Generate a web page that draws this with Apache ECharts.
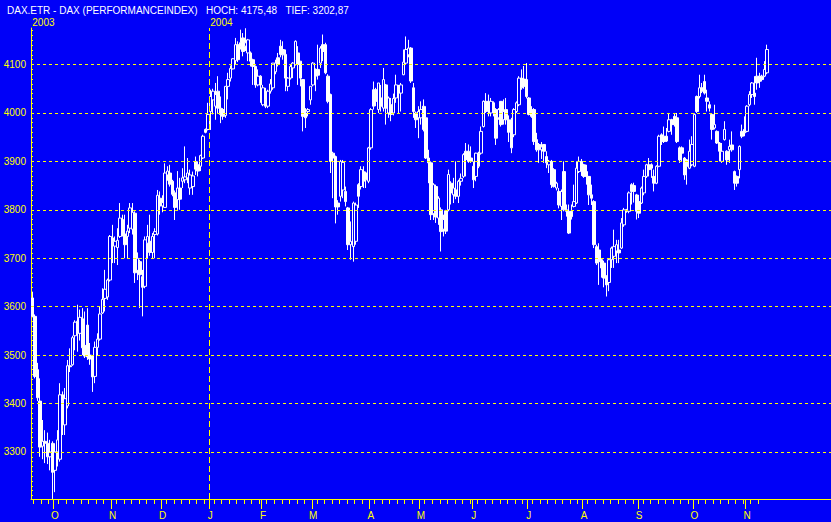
<!DOCTYPE html>
<html>
<head>
<meta charset="utf-8">
<script src="https://cdn.jsdelivr.net/npm/echarts@6/dist/echarts.min.js"></script>
<style>
html,body{margin:0;padding:0;background:#0000F8;overflow:hidden;}
#chart{width:831px;height:522px;}
</style>
</head>
<body>
<div id="chart"></div>
<script>
// ---------- texts & scales ----------
const titleText = 'DAX.ETR - DAX (PERFORMANCEINDEX)\u00a0\u00a0\u00a0HOCH: 4175,48\u00a0\u00a0\u00a0TIEF: 3202,87';
const yMin = 3202.87;
const yMax = 4175.48;
const yTickValues = [3300, 3400, 3500, 3600, 3700, 3800, 3900, 4000, 4100];
const monthLetters = ['J','F','M','A','M','J','J','A','S','O','N','D'];
const yearMarks = ['2003-09-18', '2004-01-02'];
const firstDay = '2003-09-18';
const slotCount = 319;
const holidays = ['2003-12-24','2003-12-25','2003-12-26','2003-12-31','2004-01-01','2004-04-09','2004-04-12','2004-12-24','2004-12-31'];

// ---------- daily OHLC ----------
const opens = [3618,3580,3470,3405,3312,3322,3318,3290,3318,3262,
3300,3285,3418,3356,3395,3478,3480,3540,3570,3545,
3575,3520,3562,3500,3497,3456,3516,3533,3587,3617,
3620,3655,3742,3725,3722,3745,3780,3750,3745,3762,
3760,3793,3675,3693,3662,3642,3731,3735,3712,3749,
3750,3824,3808,3805,3872,3876,3859,3835,3821,3845,
3859,3862,3866,3845,3848,3900,3893,3890,3907,3966,
3966,4003,4027,4014,4045,4010,4007,3995,4055,4072,
4091,4108,4141,4145,4155,4138,4124,4124,4110,4096,
4058,4076,4017,4027,4014,4045,4052,4085,4114,4138,
4131,4121,4055,4072,4093,4100,4124,4107,4069,4000,
4003,4027,4058,4090,4090,4103,4141,4141,4076,4038,
3917,3910,3814,3828,3841,3838,3804,3728,3724,3735,
3852,3848,3879,3876,3859,3928,4048,4048,4007,4031,
4010,4058,4000,4017,4000,4031,4055,4041,4079,4103,
4120,4134,4052,4000,3990,3990,4014,3990,3907,3897,
3792,3848,3783,3800,3760,3798,3800,3855,3831,3841,
3828,3859,3869,3921,3921,3907,3890,3869,3917,3917,
3972,4024,4024,4000,4021,4007,3990,4024,3986,4007,
3986,3986,3955,4003,4017,4072,4070,4069,4031,4007,
4007,3945,3935,3924,3935,3910,3893,3900,3883,3845,
3838,3807,3879,3800,3797,3797,3807,3814,3879,3900,
3893,3879,3869,3831,3817,3724,3717,3697,3690,3662,
3650,3697,3704,3715,3717,3721,3769,3800,3797,3852,
3850,3831,3817,3814,3835,3869,3893,3893,3869,3855,
3890,3955,3952,3952,3962,3986,3993,3990,3928,3928,
3907,3903,3886,3893,3890,4034,4034,4052,4065,4031,
4017,3997,3969,3962,3938,3900,3945,3921,3924,3934,
3879,3869,3883,3962,3966,3962,4017,4038,4041,4076,
4076,4076,4076,4083];
const closes = [3580,3456,3412,3310,3322,3318,3290,3300,3258,3300,
3325,3418,3405,3410,3478,3476,3536,3568,3545,3578,
3515,3498,3496,3492,3455,3516,3533,3585,3615,3636,
3655,3745,3728,3735,3737,3783,3750,3728,3756,3804,
3795,3670,3700,3666,3640,3738,3745,3712,3745,3755,
3830,3808,3815,3876,3880,3853,3832,3805,3845,3822,
3866,3868,3876,3872,3870,3884,3880,3912,3952,3960,
3997,4034,4045,4038,4010,3997,3993,4055,4069,4092,
4112,4141,4110,4138,4127,4145,4151,4107,4096,4058,
4076,4058,4052,4014,4045,4060,4103,4103,4100,4121,
4120,4072,4072,4096,4103,4148,4100,4072,3993,3990,
4007,4055,4103,4076,4078,4134,4127,4083,4024,3900,
3907,3806,3806,3900,3898,3817,3728,3735,3814,3810,
3828,3883,3859,3862,3928,4007,4014,4024,4062,4014,
4069,4010,4031,3997,4030,4058,4041,4058,4105,4131,
4134,4066,4003,3986,4003,4007,3966,3907,3897,3790,
3852,3785,3824,3755,3780,3756,3873,3835,3845,3828,
3859,3865,3914,3904,3900,3900,3862,3917,3890,3962,
4024,4003,4007,4024,4007,3948,4007,3976,4003,3986,
3960,3928,4007,4021,4072,4052,4055,4034,3997,3993,
3941,3924,3924,3930,3921,3897,3900,3852,3848,3855,
3810,3838,3800,3797,3752,3786,3817,3886,3900,3880,
3869,3869,3831,3824,3728,3690,3693,3680,3659,3645,
3697,3721,3724,3728,3711,3773,3800,3797,3835,3838,
3838,3797,3793,3845,3869,3893,3883,3886,3855,3890,
3952,3941,3941,3942,3986,3976,3976,3941,3903,3917,
3872,3890,3921,3935,3997,4003,4052,4045,4041,4024,
4010,3966,3976,3938,3921,3921,3966,3903,3931,3924,
3855,3855,3931,3952,3959,4014,4038,4062,4034,4062,
4065,4069,4090,4131];
const lows = [3578,3452,3405,3290,3285,3277,3275,3262,3203,3217,
3270,3280,3335,3335,3390,3465,3478,3510,3507,3530,
3500,3494,3490,3480,3424,3442,3500,3530,3585,3590,
3614,3652,3690,3690,3686,3742,3745,3700,3700,3752,
3749,3649,3655,3597,3580,3638,3700,3705,3700,3700,
3747,3790,3795,3804,3860,3848,3828,3779,3800,3800,
3845,3855,3855,3831,3831,3872,3869,3880,3905,3958,
3964,3965,3997,3986,4000,3979,3986,3990,4028,4065,
4090,4100,4105,4131,4117,4128,4107,4096,4058,4052,
4055,4021,4014,4010,4010,4040,4048,4080,4096,4115,
4110,4045,4045,4069,4072,4098,4058,4055,3962,3969,
3993,4017,4055,4045,4069,4093,4107,4080,4020,3876,
3824,3772,3790,3817,3824,3807,3717,3697,3693,3728,
3804,3842,3845,3845,3855,3924,4007,4014,4000,4003,
4003,3976,3990,3983,3995,4021,4000,4003,4078,4100,
4115,4062,3990,3969,3948,3976,3962,3905,3855,3779,
3779,3773,3769,3714,3745,3750,3797,3811,3814,3822,
3814,3850,3866,3869,3897,3897,3845,3859,3886,3914,
3970,4000,3993,3993,3993,3934,3986,3972,3976,3976,
3940,3917,3950,4000,4014,4048,4050,4030,3995,3990,
3934,3920,3897,3905,3897,3886,3876,3845,3846,3840,
3803,3779,3797,3786,3750,3780,3805,3812,3876,3870,
3866,3852,3810,3810,3721,3686,3645,3660,3640,3621,
3632,3680,3680,3690,3690,3719,3765,3794,3793,3811,
3815,3780,3783,3812,3830,3866,3869,3866,3838,3853,
3888,3934,3938,3940,3960,3955,3972,3938,3897,3900,
3862,3852,3884,3890,3888,4000,4030,4041,4038,4003,
4003,3945,3966,3936,3900,3897,3943,3893,3897,3920,
3841,3848,3865,3948,3952,3960,4014,4031,4017,4048,
4052,4065,4074,4080];
const highs = [3631,3584,3484,3452,3366,3345,3340,3325,3322,3318,
3345,3442,3425,3432,3490,3514,3540,3572,3604,3594,
3597,3590,3597,3525,3500,3528,3545,3601,3638,3676,
3658,3748,3769,3745,3762,3814,3790,3790,3769,3814,
3814,3797,3712,3697,3676,3745,3769,3790,3752,3762,
3841,3838,3830,3896,3890,3893,3862,3840,3880,3866,
3886,3931,3907,3883,3879,3910,3900,3914,3955,3968,
4021,4048,4050,4062,4076,4034,4010,4055,4083,4098,
4113,4155,4148,4172,4165,4175,4153,4127,4112,4098,
4090,4078,4058,4052,4048,4070,4103,4110,4124,4151,
4148,4131,4074,4100,4105,4150,4138,4107,4069,4010,
4010,4055,4105,4092,4141,4138,4162,4145,4080,4040,
3920,3912,3820,3903,3903,3848,3806,3776,3817,3815,
3855,3890,3890,3879,3930,4010,4065,4052,4062,4058,
4093,4060,4034,4031,4040,4079,4058,4062,4131,4158,
4151,4136,4062,4003,4014,4024,4028,4014,3924,3900,
3855,3852,3828,3805,3790,3800,3883,3859,3866,3900,
3862,3875,3917,3938,3935,3931,3900,3918,3920,3972,
4026,4041,4038,4031,4024,4010,4010,4024,4028,4031,
3995,3990,4010,4024,4076,4090,4097,4103,4033,4014,
4010,3959,3938,3940,3935,3921,3903,3903,3886,3858,
3845,3842,3900,3811,3811,3811,3852,3900,3910,3905,
3895,3893,3870,3852,3820,3728,3731,3700,3695,3665,
3700,3724,3759,3738,3738,3783,3804,3802,3838,3855,
3856,3833,3831,3848,3883,3895,3907,3896,3883,3892,
3955,3958,3972,3969,4000,3988,4000,4000,3931,3931,
3909,3905,3945,3952,3999,4036,4079,4062,4079,4048,
4024,3999,4017,3964,3940,3938,3983,3923,3945,3962,
3881,3871,3933,3976,3993,4016,4045,4064,4076,4114,
4083,4079,4107,4141];

// ---------- colours & fonts ----------
const BG = '#0000F8';
const YELLOW = '#FFFF00';
const WHITE = '#FFFFFF';
const FONT = '"Liberation Sans", Arial, sans-serif';

// ---------- trading-day categories ----------
const dates = [];
const monthOffset = [];
(function () {
  let d = new Date(Date.UTC(2003, 8, 1));
  let curMonth = -1, off = 0;
  while (dates.length < slotCount) {
    const s = d.toISOString().slice(0, 10);
    const wd = d.getUTCDay();
    if (wd !== 0 && wd !== 6 && holidays.indexOf(s) < 0) {
      if (d.getUTCMonth() !== curMonth) { curMonth = d.getUTCMonth(); off = 0; }
      if (s >= firstDay) { dates.push(s); monthOffset.push(off); }
      off++;
    }
    d = new Date(d.getTime() + 86400000);
  }
})();
const lastIdx = opens.length - 1;
const isMajor = i => i <= lastIdx && monthOffset[i] === 0;
const isMinor = i => i <= lastIdx - 1 && monthOffset[i] % 3 === 2;
const yearIdx = yearMarks.map(s => dates.indexOf(s));
const minorY = [];
for (let v = 3210; v < yMax; v += 10) minorY.push(v);

const candles = opens.map((o, i) => [o, closes[i], lows[i], highs[i]]);

const chart = echarts.init(document.getElementById('chart'), null, { renderer: 'svg' });
chart.setOption({
  animation: false,
  backgroundColor: BG,
  title: {
    text: titleText, left: 2, top: 0,
    textStyle: { color: WHITE, fontSize: 10, fontWeight: 'normal', fontFamily: FONT }
  },
  grid: { left: 31, right: 0, top: 28, bottom: 23, containLabel: false },
  xAxis: [
    {
      type: 'category', data: dates, position: 'bottom', boundaryGap: true,
      axisLine: { show: true, lineStyle: { color: YELLOW, width: 1 } },
      axisTick: { show: true, interval: (i) => isMajor(i), length: 10, lineStyle: { color: YELLOW, width: 1 } },
      axisLabel: {
        show: true, interval: (i) => isMajor(i), color: YELLOW, fontSize: 10, fontFamily: FONT, margin: 11,
        formatter: (v) => monthLetters[parseInt(v.slice(5, 7), 10) - 1]
      },
      splitLine: { show: false }
    },
    {
      type: 'category', data: dates, position: 'bottom', boundaryGap: true,
      axisLine: { show: false },
      axisTick: { show: true, interval: (i) => isMinor(i), length: 5, lineStyle: { color: YELLOW, width: 1 } },
      axisLabel: { show: false },
      splitLine: { show: false }
    },
    {
      type: 'category', data: dates, position: 'top', boundaryGap: true,
      axisLine: { show: false }, axisTick: { show: false },
      axisLabel: {
        show: true, interval: (i) => yearIdx.indexOf(i) >= 0, color: YELLOW, fontSize: 10, fontFamily: FONT,
        margin: 1, align: 'left', formatter: (v) => v.slice(0, 4)
      },
      splitLine: { show: false }
    },
    {
      type: 'value', min: 0, max: slotCount, show: false
    }
  ],
  yAxis: {
    type: 'value', min: yMin, max: yMax, position: 'left',
    axisLine: { show: true, lineStyle: { color: YELLOW, width: 1 } },
    axisTick: { show: true, inside: true, length: 2, customValues: minorY, lineStyle: { color: YELLOW, width: 1 } },
    axisLabel: {
      show: true, customValues: yTickValues, color: YELLOW, fontSize: 10, fontFamily: FONT, margin: 5,
      formatter: (v) => String(Math.round(v))
    },
    splitLine: { show: false }
  },
  series: [
    {
      type: 'line', xAxisIndex: 3, yAxisIndex: 0, data: [], silent: true,
      markLine: {
        silent: true, symbol: ['none', 'none'], animation: false,
        label: { show: false },
        lineStyle: { color: YELLOW, type: [3, 3], width: 1 },
        data: yTickValues.map(v => ({ yAxis: v })).concat(
          yearIdx.slice(1).map(i => ({ xAxis: i, lineStyle: { color: YELLOW, type: [6, 3], width: 1 } }))
        )
      }
    },
    {
      type: 'candlestick', xAxisIndex: 0, yAxisIndex: 0, data: candles, barWidth: 3,
      itemStyle: {
        color: BG, color0: WHITE, borderColor: WHITE, borderColor0: WHITE, borderColorDoji: WHITE, borderWidth: 1
      }
    }
  ]
});
</script>
</body>
</html>
